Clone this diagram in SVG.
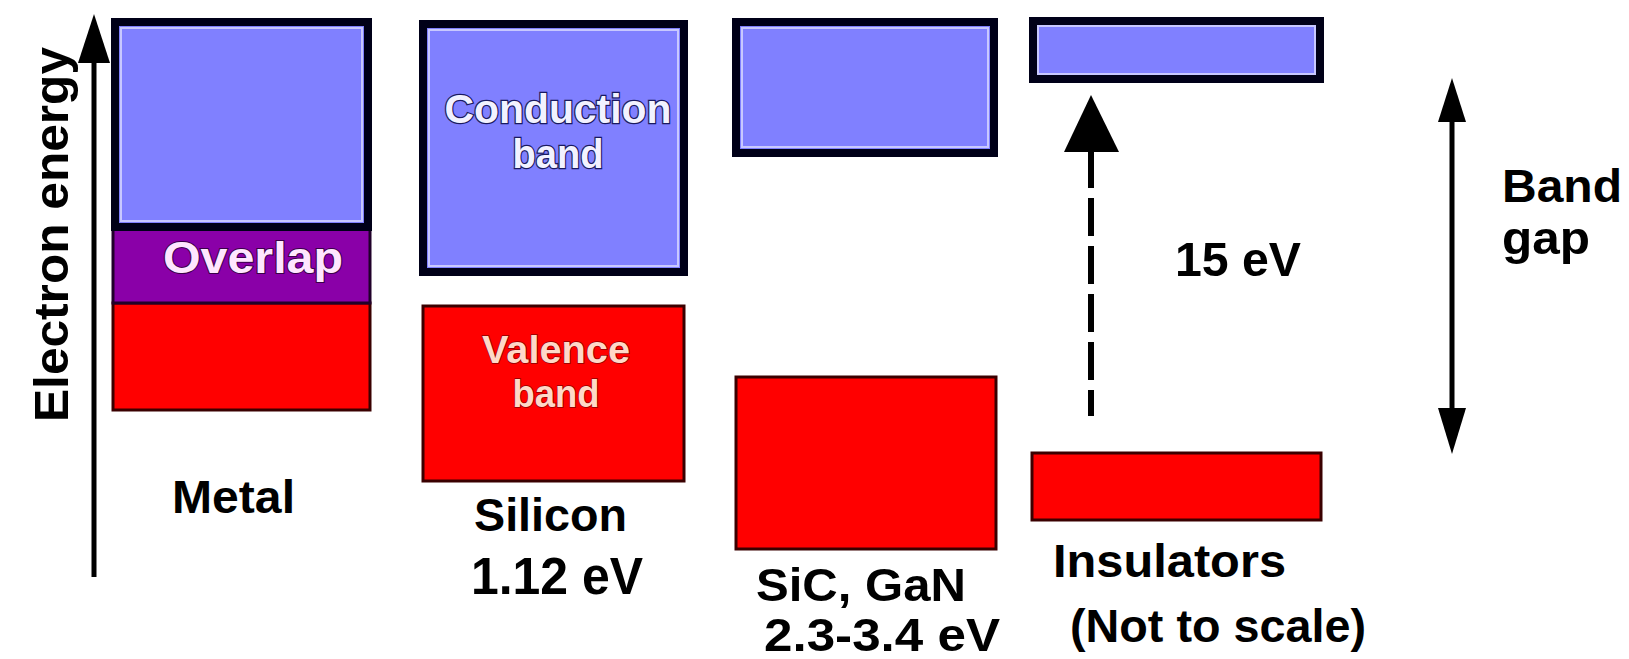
<svg xmlns="http://www.w3.org/2000/svg" width="1629" height="659" viewBox="0 0 1629 659">
<style>
.cb{fill:#8080ff;stroke:#000018;stroke-width:8}
.cbi{fill:none;stroke:#c8c8ff;stroke-width:2}
.vb{fill:#ff0000;stroke:#3a0000;stroke-width:3}
.ov{fill:#8a00a8;stroke:#20002a;stroke-width:3}
.t{font-family:"Liberation Sans",Arial,sans-serif;font-weight:bold;fill:#000}
.tin{font-family:"Liberation Sans",Arial,sans-serif;font-weight:bold;paint-order:stroke}
.ln{stroke:#000;fill:none}
.hd{fill:#000}
</style>
<rect width="1629" height="659" fill="#fff"/>

<g id="axis-label">
<text class="t" font-size="48" transform="translate(68,422) rotate(-90)" textLength="375" lengthAdjust="spacingAndGlyphs">Electron energy</text>
</g>

<g id="metal">
<rect class="vb" x="113" y="303" width="257" height="107"/>
<rect class="ov" x="113" y="228" width="257" height="75"/>
<rect class="cb" x="115" y="22" width="253" height="205"/>
<rect class="cbi" x="121" y="28" width="241" height="193"/>
<text class="tin" x="163" y="273" font-size="44" fill="#ffe6ff" stroke="#3a0048" stroke-width="2" textLength="180" lengthAdjust="spacingAndGlyphs">Overlap</text>
<text class="t" x="172" y="513" font-size="47" textLength="123" lengthAdjust="spacingAndGlyphs">Metal</text>
</g>

<g id="silicon">
<rect class="cb" x="423" y="24" width="261" height="248"/>
<rect class="cbi" x="429" y="30" width="249" height="236"/>
<rect class="vb" x="423" y="306" width="261" height="175"/>
<text class="tin" x="558" y="123" font-size="41" text-anchor="middle" fill="#f2f2ff" stroke="#1a1a60" stroke-width="2.5" textLength="227" lengthAdjust="spacingAndGlyphs">Conduction</text>
<text class="tin" x="558" y="168" font-size="41" text-anchor="middle" fill="#f2f2ff" stroke="#1a1a60" stroke-width="2.5" textLength="91" lengthAdjust="spacingAndGlyphs">band</text>
<text class="tin" x="556" y="363" font-size="39" text-anchor="middle" fill="#ffd8c8" stroke="#900000" stroke-width="1.5" textLength="148" lengthAdjust="spacingAndGlyphs">Valence</text>
<text class="tin" x="556" y="407" font-size="39" text-anchor="middle" fill="#ffd8c8" stroke="#900000" stroke-width="1.5" textLength="87" lengthAdjust="spacingAndGlyphs">band</text>
<text class="t" x="474" y="531" font-size="46" textLength="153" lengthAdjust="spacingAndGlyphs">Silicon</text>
<text class="t" x="471" y="594" font-size="51" textLength="172" lengthAdjust="spacingAndGlyphs">1.12 eV</text>
</g>

<g id="sic-gan">
<rect class="cb" x="736" y="22" width="258" height="131"/>
<rect class="cbi" x="742" y="28" width="246" height="119"/>
<rect class="vb" x="736" y="377" width="260" height="172"/>
<text class="t" x="756" y="601" font-size="47" textLength="210" lengthAdjust="spacingAndGlyphs">SiC, GaN</text>
<text class="t" x="764" y="651" font-size="46" textLength="236" lengthAdjust="spacingAndGlyphs">2.3-3.4 eV</text>
</g>

<g id="insulators">
<rect class="cb" x="1033" y="21" width="287" height="58" stroke-width="5"/>
<rect class="cbi" x="1038" y="26" width="277" height="48"/>
<rect class="vb" x="1032" y="453" width="289" height="67"/>
<text class="t" x="1053" y="577" font-size="46" textLength="233" lengthAdjust="spacingAndGlyphs">Insulators</text>
<text class="t" x="1070" y="642" font-size="47" textLength="296" lengthAdjust="spacingAndGlyphs">(Not to scale)</text>
<text class="t" x="1175" y="276" font-size="48" textLength="126" lengthAdjust="spacingAndGlyphs">15 eV</text>
</g>

<g id="band-gap-label">
<text class="t" x="1502" y="202" font-size="47" textLength="120" lengthAdjust="spacingAndGlyphs">Band</text>
<text class="t" x="1502" y="254" font-size="47" textLength="88" lengthAdjust="spacingAndGlyphs">gap</text>
</g>

<g id="connectors">
<line class="ln" x1="94" y1="55" x2="94" y2="577" stroke-width="5"/>
<polygon class="hd" points="94,14 78,63 110,63"/>
<line class="ln" x1="1091" y1="150" x2="1091" y2="416" stroke-width="6" stroke-dasharray="38 10"/>
<polygon class="hd" points="1091,95 1064,152 1119,152"/>
<line class="ln" x1="1452" y1="115" x2="1452" y2="415" stroke-width="5"/>
<polygon class="hd" points="1452,78 1438,122 1466,122"/>
<polygon class="hd" points="1452,454 1438,408 1466,408"/>
</g>
</svg>
